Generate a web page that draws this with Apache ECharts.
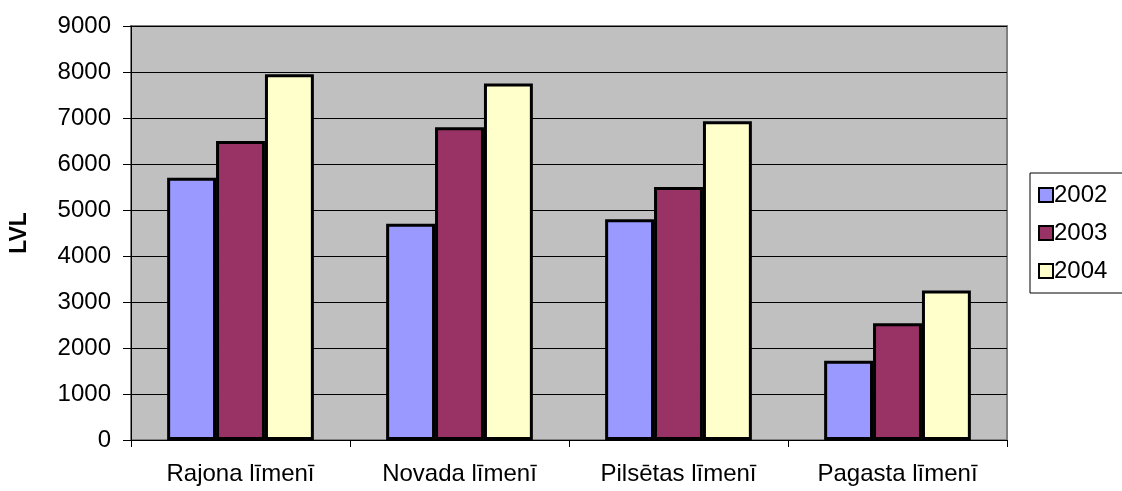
<!DOCTYPE html>
<html>
<head>
<meta charset="utf-8">
<script src="https://cdn.jsdelivr.net/npm/echarts@6/dist/echarts.min.js"></script>
<style>html,body{margin:0;padding:0;background:#fff}#c{width:1122px;height:491px}</style>
</head>
<body>
<div id="c"></div>
<script>
var categories = ['Rajona līmenī', 'Novada līmenī', 'Pilsētas līmenī', 'Pagasta līmenī'];
var seriesNames = ['2002', '2003', '2004'];
var values2002 = [5700, 4700, 4800, 1725];
var values2003 = [6500, 6800, 5500, 2540];
var values2004 = [7950, 7750, 6930, 3250];
var colors = ['#9999FF', '#993366', '#FFFFCC'];
var yTicks = [0, 1000, 2000, 3000, 4000, 5000, 6000, 7000, 8000, 9000];

var chart = echarts.init(document.getElementById('c'));
var font = 'Liberation Sans, Arial, sans-serif';
var data = [values2002, values2003, values2004];
chart.setOption({
  animation: false,
  textStyle: {fontFamily: font},
  grid: {left: 130, right: 115, top: 26, bottom: 51, show: true, backgroundColor: '#C0C0C0', borderColor: '#808080', borderWidth: 2},
  legend: {
    orient: 'vertical', left: 1030, top: 173,
    data: seriesNames,
    itemWidth: 14, itemHeight: 14, itemGap: 14,
    padding: [10, 16, 10, 8],
    borderColor: '#000', borderWidth: 1,
    icon: 'rect',
    itemStyle: {borderColor: '#000', borderWidth: 2},
    textStyle: {fontSize: 24, color: '#000', fontFamily: font, padding: [0, 0, 0, -4]}
  },
  xAxis: {
    type: 'category', data: categories,
    axisLine: {lineStyle: {color: '#000', width: 1}},
    axisTick: {show: true, length: 7, lineStyle: {color: '#000'}},
    axisLabel: {color: '#000', fontSize: 24, margin: 22, fontFamily: font},
    splitLine: {show: false}
  },
  yAxis: {
    type: 'value', min: 0, max: 9000, interval: 1000,
    name: 'LVL', nameLocation: 'middle', nameGap: 100,
    nameTextStyle: {fontWeight: 'bold', fontSize: 23, color: '#000', fontFamily: font},
    axisLine: {show: true, lineStyle: {color: '#000', width: 1}},
    axisTick: {show: true, length: 8, lineStyle: {color: '#000'}},
    axisLabel: {color: '#000', fontSize: 24, margin: 20, fontFamily: font,
      formatter: function (v) { return yTicks.indexOf(v) >= 0 ? String(v) : ''; }},
    splitLine: {show: true, lineStyle: {color: '#000', width: 1}}
  },
  series: seriesNames.map(function (n, i) {
    return {
      name: n, type: 'bar', data: data[i],
      barGap: '0%', barCategoryGap: '33%',
      itemStyle: {color: colors[i], borderColor: '#000', borderWidth: 3}
    };
  })
});
</script>
</body>
</html>
